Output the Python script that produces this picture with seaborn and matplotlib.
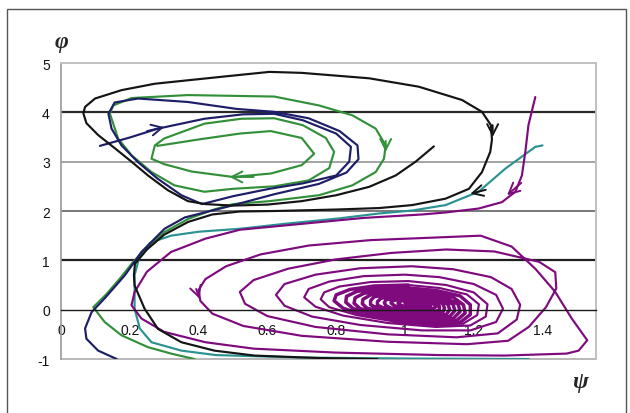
import matplotlib
matplotlib.use("Agg")
import matplotlib.pyplot as plt
import pandas as pd
import seaborn as sns
from matplotlib.patches import Rectangle

# ---- trajectories in the (psi, phi) plane ----
black_path = [(1.084, 3.31), (1.031, 3.0), (0.973, 2.72), (0.896, 2.49), (0.80, 2.32), (0.70, 2.2),
              (0.60, 2.13), (0.50, 2.11), (0.42, 2.14), (0.369, 2.2), (0.311, 2.42), (0.253, 2.72),
              (0.205, 3.0), (0.157, 3.27), (0.108, 3.54), (0.074, 3.78), (0.065, 3.98), (0.07, 4.11),
              (0.099, 4.28), (0.176, 4.45), (0.273, 4.58), (0.466, 4.72), (0.606, 4.82), (0.70, 4.80),
              (0.896, 4.69), (1.04, 4.52), (1.166, 4.25), (1.224, 4.01), (1.25, 3.74), (1.253, 3.45),
              (1.248, 3.2), (1.224, 2.79), (1.186, 2.45), (1.118, 2.25), (1.021, 2.12), (0.925, 2.06),
              (0.80, 2.03), (0.62, 2.0), (0.52, 1.99), (0.44, 1.93), (0.37, 1.78), (0.30, 1.52),
              (0.25, 1.22), (0.215, 0.93), (0.212, 0.70), (0.214, 0.49), (0.243, 0.02), (0.282, -0.39),
              (0.35, -0.66), (0.446, -0.83), (0.562, -0.93), (0.75, -0.98), (0.92, -1.0)]

navy_path = [(0.113, 3.32), (0.20, 3.49), (0.282, 3.67), (0.417, 3.87), (0.53, 3.96), (0.62, 3.97),
             (0.703, 3.84), (0.80, 3.57), (0.843, 3.30), (0.838, 3.0), (0.80, 2.72), (0.703, 2.56),
             (0.606, 2.45), (0.50, 2.30), (0.41, 2.14), (0.35, 2.32), (0.28, 2.66), (0.224, 2.99),
             (0.176, 3.33), (0.147, 3.67), (0.138, 3.97), (0.156, 4.20), (0.224, 4.28), (0.369, 4.21),
             (0.51, 4.07), (0.62, 4.01), (0.72, 3.88), (0.81, 3.62), (0.862, 3.33), (0.865, 3.05),
             (0.83, 2.78), (0.75, 2.55), (0.62, 2.34), (0.48, 2.08), (0.36, 1.87), (0.301, 1.64),
             (0.234, 1.17), (0.186, 0.70), (0.127, 0.23), (0.089, -0.05), (0.07, -0.38), (0.074, -0.59),
             (0.108, -0.83), (0.162, -1.0)]

green_path = [(0.28, 3.32), (0.40, 3.45), (0.52, 3.57), (0.61, 3.62), (0.70, 3.48), (0.736, 3.16),
              (0.70, 2.93), (0.61, 2.76), (0.50, 2.69), (0.38, 2.80), (0.30, 2.95), (0.263, 3.06),
              (0.273, 3.33), (0.30, 3.47), (0.417, 3.77), (0.524, 3.87), (0.62, 3.88), (0.703, 3.74),
              (0.77, 3.48), (0.794, 3.2), (0.78, 2.87), (0.72, 2.62), (0.62, 2.50), (0.50, 2.45),
              (0.417, 2.39), (0.33, 2.52), (0.263, 2.79), (0.205, 3.13), (0.166, 3.47), (0.142, 3.98),
              (0.152, 4.14), (0.205, 4.29), (0.369, 4.35), (0.62, 4.32), (0.75, 4.14), (0.847, 3.94),
              (0.915, 3.67), (0.944, 3.33), (0.939, 3.06), (0.915, 2.79), (0.847, 2.52), (0.75, 2.32),
              (0.606, 2.20), (0.50, 2.14), (0.44, 2.02), (0.37, 1.84), (0.30, 1.57), (0.25, 1.26),
              (0.21, 0.97), (0.17, 0.62), (0.13, 0.30), (0.094, 0.05), (0.127, -0.25), (0.176, -0.52),
              (0.253, -0.76), (0.32, -0.89), (0.388, -1.0)]

teal_path = [(1.40, 3.33), (1.379, 3.30), (1.292, 2.86), (1.214, 2.39), (1.118, 2.12), (1.021, 2.01),
             (0.925, 1.95), (0.808, 1.85), (0.65, 1.74), (0.52, 1.64), (0.40, 1.58), (0.32, 1.50),
             (0.26, 1.36), (0.229, 1.10), (0.214, 0.70), (0.214, 0.02), (0.229, -0.38), (0.263, -0.66),
             (0.35, -0.83), (0.45, -0.92), (0.70, -0.97), (1.0, -0.99), (1.36, -1.0)]

purple_entry = [(1.379, 4.31), (1.359, 3.74), (1.35, 3.2), (1.34, 2.72), (1.321, 2.39), (1.282, 2.18),
                (1.214, 2.05), (1.118, 1.97), (1.05, 1.93), (0.88, 1.86), (0.70, 1.74), (0.52, 1.62)]

purple_outer = [(0.42, 1.44), (0.32, 1.17), (0.25, 0.77), (0.214, 0.36), (0.205, 0.09), (0.234, -0.18),
                (0.30, -0.45), (0.42, -0.66), (0.56, -0.79), (0.80, -0.87), (1.10, -0.92), (1.29, -0.93),
                (1.47, -0.89), (1.505, -0.83), (1.53, -0.62), (1.485, -0.18), (1.437, 0.36), (1.379, 0.83),
                (1.31, 1.28), (1.22, 1.50),
                (1.08, 1.46), (0.90, 1.41), (0.72, 1.30), (0.58, 1.12), (0.48, 0.88), (0.42, 0.62),
                (0.40, 0.40), (0.405, 0.18), (0.44, -0.08), (0.53, -0.33), (0.70, -0.53), (0.95, -0.65),
                (1.18, -0.70), (1.30, -0.63), (1.36, -0.35), (1.41, 0.05), (1.44, 0.43), (1.437, 0.76),
                (1.39, 0.97), (1.26, 1.18), (1.12, 1.22),
                (0.96, 1.15), (0.80, 1.02), (0.66, 0.83), (0.56, 0.60), (0.52, 0.36), (0.535, 0.12),
                (0.60, -0.13), (0.74, -0.35), (0.95, -0.50), (1.15, -0.56), (1.27, -0.48), (1.325, -0.20),
                (1.335, 0.10), (1.31, 0.42), (1.25, 0.66), (1.14, 0.82), (1.02, 0.88)]

purple_mid = [(0.87, 0.84), (0.74, 0.71), (0.65, 0.52), (0.625, 0.30), (0.65, 0.08), (0.73, -0.14),
              (0.87, -0.31), (1.05, -0.42), (1.19, -0.42), (1.265, -0.25), (1.285, 0.02), (1.265, 0.30),
              (1.20, 0.52), (1.10, 0.66), (1.0, 0.71),
              (0.88, 0.68), (0.78, 0.57), (0.72, 0.42), (0.707, 0.25), (0.74, 0.06), (0.82, -0.12),
              (0.95, -0.27), (1.09, -0.35), (1.19, -0.32), (1.235, -0.14), (1.24, 0.11), (1.20, 0.35),
              (1.12, 0.50), (1.01, 0.58),
              (0.90, 0.56), (0.81, 0.47), (0.765, 0.35), (0.755, 0.21), (0.78, 0.05), (0.86, -0.11),
              (0.97, -0.24), (1.09, -0.31), (1.17, -0.28), (1.21, -0.11), (1.215, 0.11), (1.18, 0.31),
              (1.10, 0.44), (1.01, 0.50)]

purple_core = [(0.91, 0.48), (0.84, 0.41), (0.80, 0.30), (0.794, 0.18), (0.82, 0.03), (0.88, -0.11),
               (0.98, -0.22), (1.09, -0.29), (1.16, -0.26), (1.19, -0.10), (1.19, 0.10), (1.16, 0.28),
               (1.09, 0.39), (1.01, 0.44),
               (0.92, 0.43), (0.86, 0.37), (0.83, 0.27), (0.828, 0.15), (0.85, 0.02), (0.91, -0.09),
               (1.0, -0.19), (1.09, -0.25), (1.15, -0.22), (1.175, -0.07), (1.17, 0.10), (1.14, 0.25),
               (1.08, 0.35), (1.01, 0.40),
               (0.93, 0.39), (0.88, 0.33), (0.855, 0.24), (0.852, 0.13), (0.87, 0.02), (0.93, -0.07),
               (1.01, -0.16), (1.09, -0.21), (1.14, -0.18), (1.16, -0.04), (1.155, 0.11), (1.12, 0.23),
               (1.07, 0.32), (1.01, 0.36),
               (0.94, 0.35), (0.90, 0.30), (0.878, 0.21), (0.876, 0.12), (0.89, 0.03), (0.94, -0.05),
               (1.01, -0.13), (1.08, -0.17), (1.13, -0.14), (1.145, -0.02), (1.14, 0.11), (1.11, 0.21),
               (1.06, 0.29), (1.01, 0.32),
               (0.95, 0.31), (0.91, 0.26), (0.90, 0.18), (0.90, 0.10), (0.92, 0.03), (0.96, -0.04),
               (1.02, -0.10), (1.08, -0.13), (1.12, -0.10), (1.13, 0.0), (1.125, 0.11), (1.10, 0.19),
               (1.06, 0.26), (1.01, 0.28),
               (0.96, 0.27), (0.93, 0.23), (0.92, 0.16), (0.92, 0.09), (0.94, 0.03), (0.98, -0.03),
               (1.03, -0.07), (1.08, -0.09), (1.11, -0.06), (1.115, 0.03), (1.11, 0.12), (1.09, 0.18),
               (1.05, 0.23), (1.01, 0.25),
               (0.97, 0.24), (0.945, 0.20), (0.94, 0.14), (0.945, 0.08), (0.96, 0.03), (1.0, -0.02),
               (1.04, -0.05), (1.08, -0.05), (1.10, -0.01), (1.10, 0.07), (1.09, 0.13), (1.07, 0.18),
               (1.04, 0.21), (1.01, 0.22),
               (0.98, 0.21), (0.96, 0.17), (0.96, 0.13), (0.97, 0.08), (0.99, 0.04), (1.02, 0.0),
               (1.05, -0.01), (1.08, 0.01), (1.09, 0.06), (1.085, 0.11), (1.07, 0.15), (1.05, 0.18),
               (1.02, 0.19),
               (0.99, 0.18), (0.98, 0.14), (0.985, 0.10), (1.0, 0.06), (1.03, 0.03), (1.06, 0.03),
               (1.075, 0.07), (1.07, 0.11), (1.05, 0.15), (1.02, 0.16),
               (1.00, 0.14), (1.005, 0.10), (1.02, 0.07), (1.045, 0.06), (1.06, 0.09), (1.05, 0.12),
               (1.03, 0.13), (1.02, 0.11), (1.035, 0.09)]

purple_path = purple_entry + purple_outer + purple_mid

# direction markers: (tip, tail) pairs along the trajectories
arrows = [
    ("navy", (0.30, 3.70), (0.25, 3.62)),
    ("green", (0.49, 2.69), (0.56, 2.69)),
    ("green", (0.944, 3.20), (0.944, 3.42)),
    ("black", (1.255, 3.50), (1.255, 3.74)),
    ("black", (1.19, 2.35), (1.235, 2.43)),
    ("purple", (1.297, 2.32), (1.338, 2.57)),
    ("purple", (0.403, 0.22), (0.393, 0.42)),
]

colors = {"black": "#141414", "navy": "#1e1e68", "green": "#33903a",
          "teal": "#2a9292", "purple": "#7e0a7e"}

yticks = [-1, 0, 1, 2, 3, 4, 5]
ytick_labels = ["-1", "0", "1", "2", "3", "4", "5"]
xticks = [0, 0.2, 0.4, 0.6, 0.8, 1.0, 1.2, 1.4]
xtick_labels = ["0", "0.2", "0.4", "0.6", "0.8", "1", "1.2", "1.4"]

sns.set_style("white")
plt.rcParams["font.family"] = ["Liberation Sans", "DejaVu Sans"]

fig = plt.figure(figsize=(6.3, 4.14), dpi=100)
ax = fig.add_axes([0.0968, 0.1304, 0.849, 0.715])

# horizontal reference lines
for yv, c, w in [(4, "#2a2a2a", 1.6), (3, "#8a8a8a", 1.1), (2, "#555555", 1.1), (1, "#1e1e1e", 1.6)]:
    ax.axhline(yv, color=c, lw=w, zorder=0.6)
ax.axhline(-1, color="#b8b8b8", lw=1.4, zorder=0.6, clip_on=False)

def draw(path, color, order=2, width=1.55):
    df = pd.DataFrame(path, columns=["psi", "phi"])
    sns.lineplot(data=df, x="psi", y="phi", sort=False, estimator=None,
                 color=color, lw=width, ax=ax, zorder=order)

draw(teal_path, colors["teal"], 2)
draw(purple_path, colors["purple"], 2.1)
draw(purple_mid[-1:] + purple_core, colors["purple"], 2.1, 2.5)
draw(green_path, colors["green"], 2.2)
draw(navy_path, colors["navy"], 2.3)
draw(black_path, colors["black"], 2.4)

for name, tip, tail in arrows:
    ax.annotate("", xy=tip, xytext=tail,
                arrowprops=dict(arrowstyle="->,head_length=0.55,head_width=0.28",
                                color=colors[name], lw=1.4, mutation_scale=14,
                                shrinkA=0, shrinkB=0), zorder=3)

ax.set_xlim(0, 1.555)
ax.set_ylim(-1, 5)
ax.set_xlabel("")
ax.set_ylabel("")

ax.spines["bottom"].set_position(("data", 0))
ax.spines["bottom"].set_color("#1a1a1a")
ax.spines["bottom"].set_linewidth(1.0)
ax.spines["left"].set_color("#9a9a9a")
ax.spines["left"].set_linewidth(1.2)
for s in ("top", "right"):
    ax.spines[s].set_color("#c0c0c0")
    ax.spines[s].set_linewidth(1.4)

ax.set_yticks(yticks)
ax.set_yticklabels(ytick_labels)
ax.set_xticks(xticks)
ax.set_xticklabels(xtick_labels)
ax.tick_params(axis="y", direction="out", length=4, width=1.0, color="#8a8a8a",
               pad=4, labelsize=10, labelcolor="#111")
ax.tick_params(axis="x", direction="inout", length=5, width=0.9, color="#1a1a1a",
               pad=7, labelsize=10, labelcolor="#111")

fig.text(0.097, 0.898, "φ", family=["Liberation Serif", "DejaVu Serif"], weight="bold",
         style="italic", fontsize=17, ha="center", va="center")
fig.text(0.921, 0.075, "ψ", family=["Liberation Serif", "DejaVu Serif"], weight="bold",
         style="italic", fontsize=17, ha="center", va="center")

fig.add_artist(Rectangle((0.011, -0.02), 0.983, 0.996, transform=fig.transFigure,
                         fill=False, edgecolor="#555555", lw=1.0))

fig.savefig("out.png", dpi=100)
